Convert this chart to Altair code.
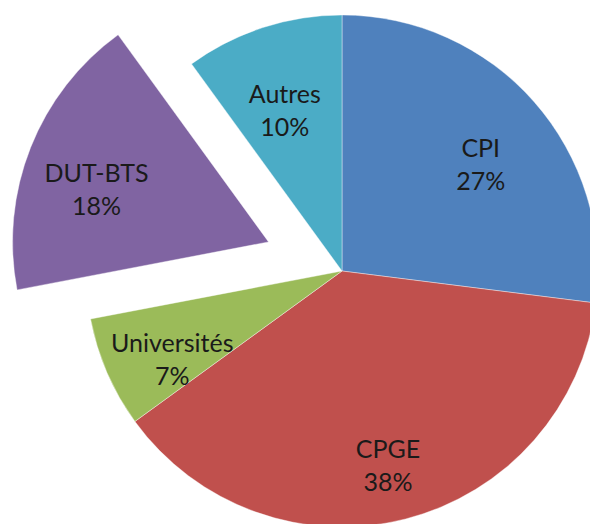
import altair as alt
import pandas as pd

categories = ["CPI", "CPGE", "Universités", "DUT-BTS", "Autres"]
values = [27, 38, 7, 18, 10]
colors = ["#4F81BD", "#C0504D", "#9BBB59", "#8064A2", "#4BACC6"]
exploded = ["DUT-BTS"]

df = pd.DataFrame({"cat": categories, "value": values, "order": list(range(len(categories)))})

CX, CY, R = 334, 263, 256
EXPLODE = 79
LABEL_R = 185

base = alt.Chart(df).transform_window(
    end="sum(value)", sort=[alt.SortField("order")], frame=[None, 0]
).transform_joinaggregate(
    total="sum(value)"
).transform_calculate(
    start="datum.end - datum.value",
    mid="(datum.end - datum.value/2) / datum.total * 2 * PI",
    pct="round(datum.value / datum.total * 100) + '%'",
).transform_calculate(
    ex="indexof(" + str(exploded) + ", datum.cat) >= 0 ? " + str(EXPLODE) + " : 0",
).transform_calculate(
    px=f"{CX} + datum.ex * sin(datum.mid)",
    py=f"{CY} - datum.ex * cos(datum.mid)",
).transform_calculate(
    lx=f"datum.px + {LABEL_R} * sin(datum.mid)",
    ly=f"datum.py - {LABEL_R} * cos(datum.mid)",
    label="datum.cat + '\\n' + datum.pct",
)

color = alt.Color("cat:N", scale=alt.Scale(domain=categories, range=colors), legend=None)

arcs = base.mark_arc(outerRadius=R, stroke="white", strokeWidth=0.4).encode(
    x=alt.X("px:Q", scale=None, axis=None),
    y=alt.Y("py:Q", scale=None, axis=None),
    theta=alt.Theta("start:Q", scale=alt.Scale(domain=[0, 100])),
    theta2="end:Q",
    color=color,
    order=alt.Order("order:Q"),
)

labels = base.mark_text(
    font="Lato", fontSize=25, lineBreak="\n", lineHeight=33,
    align="center", baseline="middle", color="#1a1a1a",
).encode(
    x=alt.X("lx:Q", scale=None, axis=None),
    y=alt.Y("ly:Q", scale=None, axis=None),
    text="label:N",
)

chart = alt.layer(arcs, labels).properties(
    width=582, height=516, padding=0,
    autosize=alt.AutoSizeParams(type="none"),
).configure_view(stroke=None)

chart.save("out.html", embed_options={"renderer": "svg", "actions": False})
